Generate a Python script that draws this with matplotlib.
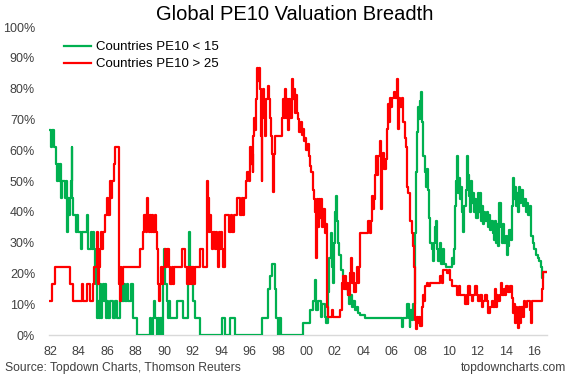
import matplotlib
matplotlib.use("Agg")
import matplotlib.pyplot as plt
import numpy as np

plt.rcParams['font.family'] = ['Liberation Sans', 'DejaVu Sans']

title = "Global PE10 Valuation Breadth"
label_low = "Countries PE10 < 15"
label_high = "Countries PE10 > 25"
source = "Source: Topdown Charts, Thomson Reuters"
site = "topdowncharts.com"

tick_years = list(range(1982, 2017, 2))
tick_labels = ["82", "84", "86", "88", "90", "92", "94", "96", "98", "00",
               "02", "04", "06", "08", "10", "12", "14", "16"]
end_year = 2016.88

# Countries PE10 < 15 (step changes: year, % of countries)
green_t = [1982.00, 1982.10, 1982.15, 1982.30, 1982.40, 1982.48, 1982.55, 1982.62, 1982.70, 1982.78,
           1982.85, 1983.05, 1983.12, 1983.20, 1983.26, 1983.33, 1983.42, 1983.48, 1983.52, 1983.58,
           1983.64, 1983.80, 1983.88, 1984.00, 1984.15, 1984.27, 1984.58, 1984.69, 1984.85, 1984.93,
           1985.00, 1985.08, 1985.16, 1985.22, 1985.28, 1985.35, 1985.42, 1985.50, 1985.56, 1985.62,
           1985.70, 1985.78, 1985.85, 1985.92, 1986.00, 1986.10, 1986.20, 1986.45, 1986.55, 1986.68,
           1986.92, 1987.00, 1987.08, 1987.20, 1987.30, 1987.40, 1987.50, 1987.72, 1987.85, 1988.09,
           1989.02, 1989.12, 1989.20, 1989.33, 1989.40, 1989.48, 1989.55, 1989.65, 1989.75, 1989.85,
           1989.96, 1990.02, 1990.08, 1990.20, 1990.30, 1990.38, 1990.45, 1990.90, 1991.37, 1991.72,
           1991.77, 1991.84, 1991.95, 1992.05, 1992.20, 1992.54, 1994.06, 1994.30, 1994.65, 1995.00,
           1996.87, 1997.33, 1997.45, 1997.56, 1997.80, 1997.90, 1998.00, 1998.10, 1998.20, 1999.78,
           2000.25, 2000.50, 2000.60, 2000.70, 2000.85, 2001.00, 2001.10, 2001.30, 2001.40, 2001.54,
           2001.62, 2001.70, 2001.77, 2001.85, 2001.93, 2002.00, 2002.05, 2002.13, 2002.22, 2002.30,
           2002.40, 2002.55, 2002.65, 2002.75, 2002.90, 2003.00, 2003.10, 2003.20, 2003.30, 2003.40,
           2003.55, 2003.65, 2003.80, 2004.10, 2006.70, 2006.78, 2007.10, 2007.18, 2007.26, 2007.30,
           2007.40, 2007.50, 2007.60, 2007.66, 2007.72, 2007.78, 2007.84, 2007.90, 2007.96, 2008.05,
           2008.10, 2008.15, 2008.22, 2008.30, 2008.38, 2008.45, 2008.52, 2008.60, 2008.70, 2008.80,
           2008.88, 2008.95, 2009.05, 2009.12, 2009.20, 2009.28, 2009.38, 2009.48, 2009.58, 2009.68,
           2009.80, 2010.20, 2010.30, 2010.38, 2010.44, 2010.50, 2010.56, 2010.62, 2010.68, 2010.74,
           2010.80, 2010.88, 2010.95, 2011.03, 2011.10, 2011.20, 2011.28, 2011.36, 2011.44, 2011.50,
           2011.56, 2011.62, 2011.70, 2011.78, 2011.86, 2011.94, 2012.02, 2012.10, 2012.18, 2012.26,
           2012.34, 2012.42, 2012.50, 2012.58, 2012.66, 2012.74, 2012.82, 2012.90, 2013.00, 2013.08,
           2013.16, 2013.24, 2013.32, 2013.40, 2013.48, 2013.56, 2013.64, 2013.72, 2013.80, 2013.90,
           2014.00, 2014.10, 2014.18, 2014.26, 2014.34, 2014.42, 2014.48, 2014.56, 2014.62, 2014.70,
           2014.78, 2014.86, 2014.94, 2015.02, 2015.10, 2015.20, 2015.30, 2015.40, 2015.50, 2015.60,
           2015.72, 2015.80, 2015.90, 2016.00, 2016.10, 2016.25, 2016.35, 2016.45, 2016.55, 2016.65]
green_v = [66.7, 61.1, 66.7, 61.1, 55.6, 50.0, 55.6, 50.0, 55.6, 44.4,
           50.0, 44.4, 50.0, 33.3, 44.4, 38.9, 44.4, 50.0, 61.1, 44.4,
           38.9, 33.3, 38.9, 33.3, 27.8, 33.3, 38.9, 27.8, 33.3, 27.8,
           33.3, 27.8, 22.2, 16.7, 5.6, 11.1, 5.6, 16.7, 5.6, 11.1,
           16.7, 11.1, 16.7, 5.6, 11.1, 5.6, 11.1, 5.6, 11.1, 5.6,
           11.1, 16.7, 11.1, 16.7, 11.1, 16.7, 11.1, 16.7, 5.6, 0.0,
           5.6, 0.0, 5.6, 11.1, 5.6, 0.0, 5.6, 0.0, 5.6, 0.0,
           16.7, 27.8, 16.7, 11.1, 5.6, 11.1, 5.6, 11.1, 5.6, 22.2,
           33.3, 22.2, 16.7, 11.1, 5.6, 0.0, 5.6, 0.0, 5.6, 0.0,
           5.6, 15.0, 19.0, 23.0, 15.0, 5.6, 0.0, 5.6, 0.0, 4.0,
           8.0, 11.0, 18.0, 8.0, 11.0, 6.0, 10.0, 6.0, 3.8, 14.0,
           25.0, 33.0, 22.0, 17.0, 30.0, 40.0, 45.0, 37.0, 30.0, 26.0,
           21.0, 19.0, 17.0, 15.0, 13.0, 10.0, 13.0, 9.0, 11.0, 8.0,
           9.0, 7.0, 6.5, 5.4, 2.7, 5.4, 10.0, 5.4, 2.7, 8.0,
           5.0, 10.0, 17.0, 33.0, 53.0, 66.0, 74.0, 70.0, 76.0, 79.0,
           72.0, 69.0, 58.0, 53.0, 48.0, 54.0, 47.0, 38.0, 30.0, 28.0,
           24.0, 30.0, 35.0, 37.0, 28.0, 24.0, 30.0, 23.0, 28.0, 23.0,
           22.0, 25.0, 23.0, 28.0, 42.0, 50.0, 58.0, 50.0, 46.0, 51.0,
           44.0, 48.0, 40.0, 33.5, 42.0, 47.0, 58.0, 52.0, 45.0, 40.0,
           50.0, 43.0, 46.0, 40.0, 44.0, 38.0, 46.0, 40.0, 46.0, 37.0,
           42.0, 36.0, 40.0, 37.0, 40.0, 35.0, 39.0, 34.0, 37.0, 33.0,
           31.0, 37.0, 30.0, 36.0, 29.0, 43.0, 35.0, 30.0, 36.0, 30.0,
           32.0, 26.0, 29.0, 34.0, 31.0, 42.0, 51.0, 44.0, 48.0, 42.0,
           46.0, 40.0, 48.0, 43.0, 47.0, 42.0, 44.0, 40.0, 43.0, 39.0,
           42.0, 32.0, 30.0, 28.0, 26.0, 25.0, 24.0, 22.0, 18.4, 20.6]

# Countries PE10 > 25
red_t = [1982.00, 1982.12, 1982.35, 1983.40, 1983.64, 1984.22, 1984.34, 1984.58, 1984.81, 1985.04,
         1985.12, 1985.28, 1985.35, 1985.42, 1985.50, 1985.58, 1985.65, 1985.75, 1985.86, 1985.98,
         1986.10, 1986.22, 1986.30, 1986.38, 1986.46, 1986.57, 1986.85, 1986.90, 1986.96, 1987.02,
         1987.10, 1988.30, 1988.50, 1988.60, 1988.72, 1988.80, 1988.86, 1988.94, 1989.02, 1989.10,
         1989.18, 1989.26, 1989.34, 1989.42, 1989.50, 1989.56, 1989.62, 1989.70, 1989.78, 1989.86,
         1989.94, 1990.07, 1990.15, 1990.25, 1990.35, 1990.45, 1990.55, 1990.62, 1990.70, 1991.25,
         1991.48, 1991.60, 1991.68, 1991.76, 1991.84, 1991.92, 1992.00, 1992.08, 1992.16, 1992.54,
         1992.77, 1993.00, 1993.08, 1993.16, 1993.24, 1993.32, 1993.40, 1993.48, 1993.56, 1993.64,
         1993.72, 1993.80, 1993.86, 1993.94, 1994.02, 1994.10, 1994.18, 1994.26, 1994.30, 1994.60,
         1994.70, 1994.80, 1994.90, 1995.10, 1995.35, 1995.45, 1995.55, 1995.65, 1995.75, 1995.82,
         1995.95, 1996.05, 1996.10, 1996.17, 1996.22, 1996.28, 1996.35, 1996.42, 1996.50, 1996.56,
         1996.62, 1996.68, 1996.74, 1996.80, 1996.86, 1996.92, 1996.98, 1997.05, 1997.12, 1997.20,
         1997.28, 1997.36, 1997.45, 1997.52, 1997.60, 1997.68, 1997.74, 1997.80, 1998.27, 1998.35,
         1998.42, 1998.50, 1998.56, 1998.62, 1998.70, 1998.78, 1998.86, 1998.97, 1999.04, 1999.10,
         1999.18, 1999.26, 1999.34, 1999.44, 1999.52, 1999.60, 1999.67, 1999.75, 1999.82, 1999.90,
         2000.00, 2000.10, 2000.18, 2000.28, 2000.36, 2000.44, 2000.52, 2000.60, 2000.66, 2000.72,
         2000.80, 2000.88, 2000.96, 2001.04, 2001.12, 2001.20, 2001.28, 2001.36, 2001.43, 2001.48,
         2001.54, 2001.77, 2001.85, 2002.36, 2002.48, 2002.56, 2002.64, 2002.72, 2002.80, 2002.88,
         2002.96, 2003.06, 2003.14, 2003.22, 2003.30, 2003.38, 2003.46, 2003.54, 2003.62, 2003.70,
         2003.77, 2004.36, 2004.45, 2004.52, 2004.60, 2004.70, 2004.78, 2004.83, 2004.90, 2004.98,
         2005.06, 2005.18, 2005.24, 2005.30, 2005.38, 2005.46, 2005.56, 2005.65, 2005.72, 2005.80,
         2005.88, 2005.96, 2006.05, 2006.15, 2006.25, 2006.35, 2006.42, 2006.47, 2006.52, 2006.60,
         2006.70, 2006.80, 2006.90, 2007.00, 2007.05, 2007.15, 2007.25, 2007.30, 2007.40, 2007.48,
         2007.54, 2007.60, 2007.64, 2007.70, 2007.76, 2007.84, 2007.92, 2007.99, 2008.10, 2008.18,
         2008.26, 2008.34, 2008.45, 2008.57, 2008.68, 2009.38, 2009.50, 2009.62, 2009.85, 2010.00,
         2010.10, 2010.20, 2010.44, 2010.60, 2010.70, 2010.80, 2010.91, 2011.15, 2011.25, 2011.32,
         2011.38, 2011.50, 2011.61, 2011.72, 2011.85, 2011.95, 2012.08, 2012.20, 2012.31, 2012.42,
         2012.55, 2012.66, 2012.78, 2012.90, 2013.02, 2013.10, 2013.25, 2013.32, 2013.40, 2013.49,
         2013.60, 2013.65, 2013.72, 2013.85, 2013.96, 2014.05, 2014.19, 2014.30, 2014.42, 2014.50,
         2014.58, 2014.66, 2014.74, 2014.82, 2014.89, 2014.95, 2015.02, 2015.10, 2015.20, 2015.28,
         2015.36, 2015.48, 2015.71, 2015.76, 2015.82, 2016.53, 2016.65]
red_v = [11.1, 16.7, 22.2, 16.7, 11.1, 16.7, 11.1, 16.7, 11.1, 16.7,
         22.2, 33.3, 16.7, 22.2, 27.8, 33.3, 27.8, 33.3, 38.9, 44.4,
         38.9, 50.0, 44.4, 50.0, 55.6, 61.1, 16.7, 11.1, 22.2, 16.7,
         22.2, 27.8, 33.3, 38.9, 33.3, 44.4, 38.9, 33.3, 38.9, 33.3,
         38.9, 33.3, 38.9, 33.3, 27.8, 16.7, 11.1, 16.7, 22.2, 16.7,
         22.2, 27.8, 22.2, 27.8, 22.2, 16.7, 22.2, 16.7, 22.2, 27.8,
         22.2, 16.7, 22.2, 16.7, 22.2, 16.7, 22.2, 16.7, 22.2, 27.8,
         22.2, 50.0, 44.4, 33.3, 38.9, 33.3, 27.8, 33.3, 27.8, 33.3,
         27.8, 22.2, 33.3, 27.8, 33.3, 27.8, 22.2, 33.3, 38.9, 33.3,
         38.9, 33.3, 38.9, 44.4, 38.9, 44.4, 38.9, 44.4, 50.0, 52.9,
         50.0, 61.1, 55.6, 58.8, 52.9, 64.7, 70.6, 66.7, 76.5, 86.6,
         82.4, 86.6, 80.0, 64.7, 50.0, 70.6, 80.0, 70.6, 64.7, 76.5,
         81.0, 76.5, 70.6, 64.7, 58.8, 46.5, 58.8, 64.7, 70.6, 76.5,
         70.6, 80.0, 70.6, 76.5, 66.7, 76.5, 70.6, 83.0, 76.5, 80.0,
         72.0, 78.0, 72.0, 70.0, 66.0, 69.0, 65.0, 67.0, 63.0, 64.0,
         60.0, 62.0, 58.0, 55.0, 53.0, 47.0, 44.0, 40.0, 25.0, 44.0,
         35.0, 44.0, 38.0, 44.0, 35.0, 41.0, 33.0, 36.0, 17.0, 9.0,
         6.0, 8.0, 6.0, 8.0, 17.0, 19.0, 15.0, 19.0, 15.0, 17.0,
         13.0, 20.0, 25.0, 17.0, 20.0, 14.0, 17.0, 22.0, 17.0, 22.0,
         33.0, 37.0, 33.0, 37.0, 45.0, 41.0, 44.0, 52.0, 58.0, 52.0,
         58.0, 63.0, 41.0, 56.0, 59.0, 54.0, 57.0, 67.0, 75.0, 69.0,
         77.0, 74.0, 77.0, 79.0, 77.0, 83.0, 80.0, 67.0, 77.0, 74.0,
         77.0, 69.0, 64.0, 61.0, 48.0, 46.0, 44.0, 37.0, 33.0, 29.0,
         22.0, 15.0, 5.0, 2.0, 6.0, 4.0, 6.0, 3.0, 9.0, 13.0,
         11.0, 16.0, 17.0, 16.0, 17.0, 19.0, 17.0, 21.0, 20.0, 21.0,
         18.0, 16.0, 16.0, 13.0, 16.0, 13.0, 13.0, 10.0, 13.0, 10.0,
         16.0, 13.0, 11.0, 13.0, 16.0, 13.0, 11.0, 13.0, 9.0, 11.0,
         13.0, 11.0, 7.0, 9.0, 11.0, 9.0, 15.0, 9.0, 13.0, 11.0,
         13.0, 17.0, 13.0, 15.0, 13.0, 16.0, 14.0, 16.0, 12.0, 7.0,
         10.0, 4.0, 9.0, 6.0, 2.2, 9.0, 4.0, 9.0, 6.0, 11.0,
         9.0, 11.0, 8.0, 4.0, 11.0, 15.0, 20.6]

GREEN = "#00B050"
RED = "#FF0000"

fig = plt.figure(figsize=(5.7, 3.78), dpi=100)
ax = fig.add_axes([49/570, 43/378, 498/570, 308/378])

gt = np.append(green_t, end_year)
gv = np.append(green_v, green_v[-1])
rt = np.append(red_t, end_year)
rv = np.append(red_v, red_v[-1])
ax.step(gt, gv, where='post', color=GREEN, lw=1.6, label=label_low, zorder=3)
ax.step(rt, rv, where='post', color=RED, lw=1.6, label=label_high, zorder=4)

ax.set_xlim(1981.93, 2016.9)
ax.set_ylim(0, 100)
ax.set_yticks(np.arange(0, 101, 10))
ax.set_yticklabels([f"{v}%" for v in range(0, 101, 10)])
ax.set_xticks(tick_years)
ax.set_xticklabels(tick_labels)
ax.tick_params(axis='both', length=0, labelsize=9, colors='#404040')
ax.tick_params(axis='y', pad=10)
ax.tick_params(axis='x', pad=8)
for s in ['top', 'right', 'left']:
    ax.spines[s].set_visible(False)
ax.spines['bottom'].set_color('#D9D9D9')
ax.spines['bottom'].set_linewidth(1.0)

leg = ax.legend(loc='upper left', bbox_to_anchor=(15/498, 1 - 14/308), frameon=False,
                fontsize=9.5, handlelength=2.05, handletextpad=0.38, labelspacing=0.36,
                borderaxespad=0, borderpad=0)

fig.text(0.517, 1 - 14/378, title, ha='center', va='center', fontsize=14.5, color='#000000')
fig.text(5/570, 1 - 368/378, source, ha='left', va='center', fontsize=8.7, color='#404040')
fig.text(566/570, 1 - 368/378, site, ha='right', va='center', fontsize=8.7, color='#404040')

fig.savefig("out.png", dpi=100)
